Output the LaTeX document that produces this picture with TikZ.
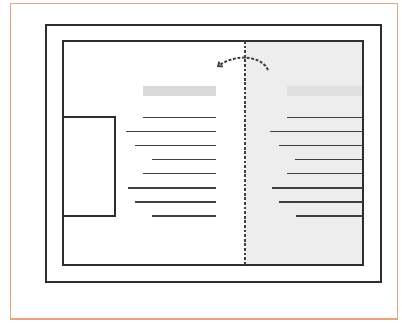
\documentclass[tikz,border=0pt]{standalone}
\usetikzlibrary{arrows.meta}
\definecolor{frameorange}{HTML}{E9A57F}
\definecolor{panelgray}{HTML}{EDEDED}
\definecolor{bargray}{HTML}{DADADA}
\definecolor{linegray}{HTML}{404040}
\definecolor{edgeblack}{HTML}{2E2E2E}
\tikzset{
  frame/.style={draw=edgeblack, line width=1.5pt},
  txtline/.style={draw=linegray, line width=1.9pt},
  foldline/.style={draw=linegray, line width=1.9pt, dash pattern=on 2.8pt off 1.8pt},
}
\begin{document}
\begin{tikzpicture}[x=1pt,y=-1pt]
\useasboundingbox (0,0) rectangle (402,322);
\fill[white] (0,0) rectangle (402,322);
\draw[draw=frameorange, line width=1.6pt] (10.5,3.5) rectangle (397.5,319);
% gray right panel
\fill[panelgray] (245,41) rectangle (363,265);
% outer and inner frames
\draw[frame] (46,25) rectangle (381,282);
\draw[frame] (63,41) rectangle (363,265);
% left box
\draw[frame] (63,117) rectangle (115,216);
% header bars
\fill[bargray] (143,86) rectangle (216,96);
\fill[bargray!85] (287,86) rectangle (362,96);
% left text lines
\foreach \s/\y in {143/117.5,126/131.5,135/145.5,152/159.5,143/173.5,128/188,135/202,152/216}
  \draw[txtline] (\s,\y) -- (216,\y);
% right text lines
\foreach \s/\y in {287/117.5,270/131.5,279/145.5,295/159.5,287/173.5,272/188,279/202,296/216}
  \draw[txtline] (\s,\y) -- (363,\y);
% fold line
\draw[foldline] (245,41) -- (245,265);
% fold arrow
\draw[foldline, -{Straight Barb[length=3.5pt,width=6pt]}] (268,70) .. controls (262,56) and (236,53) .. (217,67);
\end{tikzpicture}
\end{document}
